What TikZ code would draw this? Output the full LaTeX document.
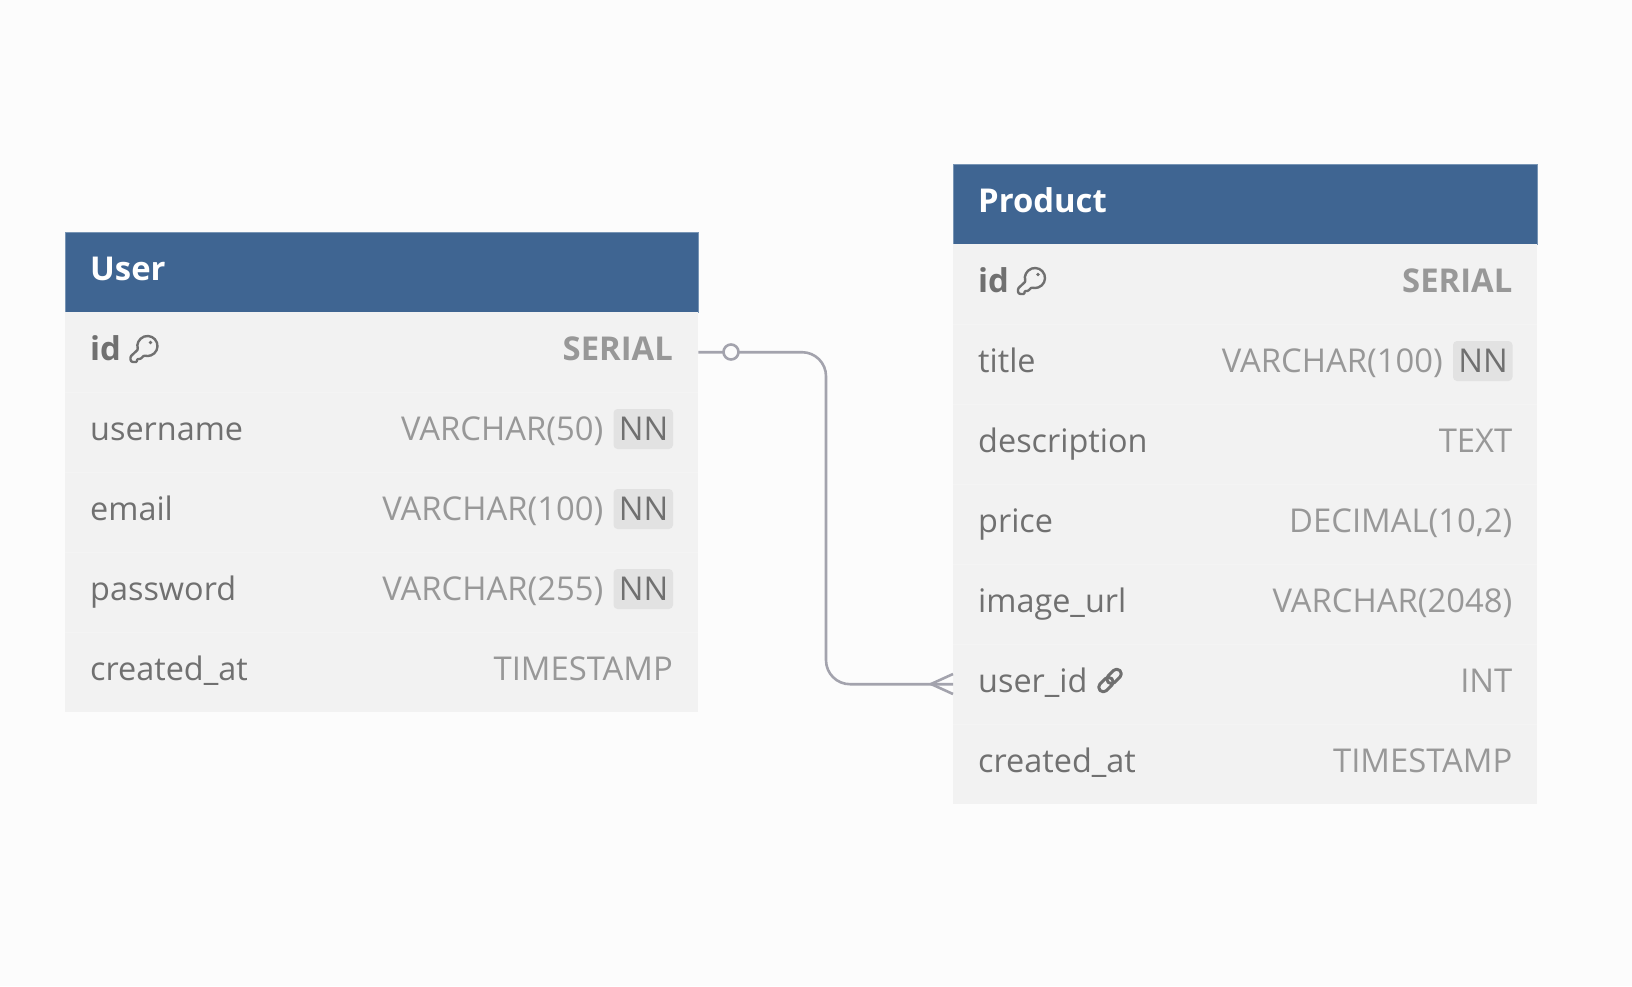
\documentclass[tikz,border=0pt]{standalone}
\usepackage{fontspec}
\setmainfont{Open Sans}
\definecolor{pagebg}{HTML}{FCFCFC}
\definecolor{headbg}{HTML}{3F6592}
\definecolor{headedge}{HTML}{7895B5}
\definecolor{rowbg}{HTML}{F2F2F2}
\definecolor{rowedge}{HTML}{F4F4F4}
\definecolor{nametext}{HTML}{707070}
\definecolor{typetext}{HTML}{989898}
\definecolor{badgebg}{HTML}{E2E2E2}
\definecolor{linkline}{HTML}{A3A3AD}
\newcommand{\tfont}{\fontsize{32.8}{33}\selectfont}
\newcommand{\nfont}{\fontsize{32.4}{33}\selectfont}
\tikzset{
  head/.style={anchor=north west,minimum height=80pt,inner sep=0pt,fill=headbg,draw=headedge,line width=0.6pt},
  rowbox/.style={anchor=north west,minimum height=80pt,inner sep=0pt,fill=rowbg},
  headtext/.style={anchor=base west,inner sep=0pt,text=white,yshift=-1.6pt,font=\tfont\bfseries},
  nametxt/.style={anchor=base west,inner sep=0pt,text=nametext,yshift=-1.6pt,font=\nfont},
  boldname/.style={nametxt,font=\tfont\bfseries},
  typetxt/.style={anchor=base east,inner sep=0pt,text=typetext,yshift=-1.6pt,font=\tfont},
  boldtype/.style={typetxt,font=\tfont\bfseries},
  badge/.style={anchor=base,inner sep=0pt,text=nametext,yshift=-1.6pt,font=\tfont},
  badgebox/.style={fill=badgebg,rounded corners=4pt,draw=none},
  conn/.style={draw=linkline,line width=2.6pt},
  iconline/.style={draw=nametext,line width=2.4pt,line join=round},
  keyicon/.pic={
    \draw[iconline,rounded corners=1pt] (-9.4,3.4) arc[start angle=160,end angle=470,radius=10]
      -- (-7,13) -- (-10.5,13) -- (-10.5,16) -- (-15.5,16) -- (-17,14.5) -- (-17,10.5) -- cycle;
    \fill[nametext] (3,-3.5) circle[radius=1.8];
  },
  linkicon/.pic={
    \draw[iconline,line width=3pt,rounded corners=4.4pt,rotate=45] (-14,-4.6) rectangle (2.5,4.6);
    \draw[iconline,line width=3pt,rounded corners=4.4pt,rotate=45] (-2.5,-4.6) rectangle (14,4.6);
  },
}
\begin{document}
\begin{tikzpicture}[x=1pt,y=-1pt]
\useasboundingbox[fill=pagebg] (0,0) rectangle (1632,986);
% User table
\node[head,minimum width=633pt] (uh) at (65,232) {};
\node[headtext] (uhT) at (90,278.5) {User};
\foreach \n/\y in {u1/312,u2/392,u3/472,u4/552,u5/632}
  \node[rowbox,minimum width=633pt] (\n) at (65,\y) {};
\foreach \y in {392,472,552,632} \draw[rowedge,line width=0.8pt] (65,\y) -- (698,\y);
\node[boldname] (u1n) at (90,359) {id};
\pic at (147.5,346) {keyicon};
\node[boldtype] (u1t) at (673,359) {SERIAL};
\node[nametxt] (u2n) at (90,439) {username};
\node[nametxt] (u3n) at (90,519) {email};
\node[nametxt] (u4n) at (90,599) {password};
\node[nametxt] (u5n) at (90,679) {created\_at};
\foreach \nm/\y/\ty in {u2/439/VARCHAR(50),u3/519/VARCHAR(100),u4/599/VARCHAR(255)}{
  \fill[badgebox] (613.5,\y-30) rectangle (673,\y+10);
  \node[badge] (\nm b) at (643.5,\y) {NN};
  \node[typetxt] (\nm t) at (603.5,\y) {\ty};
}
\node[typetxt] (u5t) at (673,679) {TIMESTAMP};
% Product table
\node[head,minimum width=584pt] (ph) at (953,164) {};
\node[headtext] (phT) at (978,210.5) {Product};
\foreach \n/\y in {p1/244,p2/324,p3/404,p4/484,p5/564,p6/644,p7/724}
  \node[rowbox,minimum width=584pt] (\n) at (953,\y) {};
\foreach \y in {324,404,484,564,644,724} \draw[rowedge,line width=0.8pt] (953,\y) -- (1537,\y);
\node[boldname] (p1n) at (978,291) {id};
\pic at (1035,278) {keyicon};
\node[boldtype] (p1t) at (1512.5,291) {SERIAL};
\node[nametxt] (p2n) at (978,371) {title};
\fill[badgebox] (1453,341) rectangle (1512.5,381);
\node[badge] (p2b) at (1483,371) {NN};
\node[typetxt] (p2t) at (1443,371) {VARCHAR(100)};
\node[nametxt] (p3n) at (978,451) {description};
\node[typetxt] (p3t) at (1512.5,451) {TEXT};
\node[nametxt] (p4n) at (978,531) {price};
\node[typetxt] (p4t) at (1512.5,531) {DECIMAL(10,2)};
\node[nametxt] (p5n) at (978,611) {image\_url};
\node[typetxt] (p5t) at (1512.5,611) {VARCHAR(2048)};
\node[nametxt] (p6n) at (978,691) {user\_id};
\pic at (1110,680.5) {linkicon};
\node[typetxt] (p6t) at (1512.5,691) {INT};
\node[nametxt] (p7n) at (978,771) {created\_at};
\node[typetxt] (p7t) at (1512.5,771) {TIMESTAMP};
% Connector
\coordinate (bend) at (826,500);
\draw[conn,rounded corners=24pt] (u1.east) -| (bend) |- (p6.west);
\node[circle,draw=linkline,line width=2.6pt,fill=pagebg,minimum size=15pt,inner sep=0pt] (opt) at (731,352) {};
\coordinate (tip) at (931,684);
\draw[conn] (p6.west |- 0,674) -- (tip) -- (p6.west |- 0,694);
\end{tikzpicture}
\end{document}
